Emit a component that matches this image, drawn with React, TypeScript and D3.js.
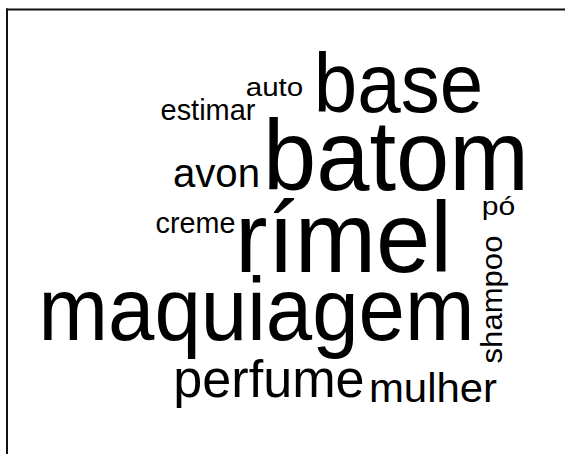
import React from "react";
import * as d3 from "d3";

// Word frequencies
const words = ["batom", "rímel", "maquiagem", "base", "perfume", "mulher", "avon", "creme", "estimar", "auto", "shampoo", "pó"];
const freqs = [25, 25, 22, 21, 13, 10, 10, 7, 7, 6, 7, 6];

// Word cloud placement (left edge, baseline, ink span, rotation)
const layoutLeft = [268, 240, 43, 318, 176, 371, 175, 157, 162, 247, 362, 483];
const layoutBase = [190, 272, 340, 112, 397, 402, 187, 233, 120, 96, 502, 215];
const layoutSpan = [256, 207, 427, 161, 186, 124, 83, 77, 92, 55, 125, 31];
const layoutRot = [0, 0, 0, 0, 0, 0, 0, 0, 0, 0, -90, 0];

const W = 565;
const H = 454;

export default function App() {
  const size = d3
    .scaleLinear()
    .domain([d3.min(freqs) as number, d3.max(freqs) as number])
    .range([25, 100]);

  return (
    <svg
      width={W}
      height={H}
      style={{ position: "absolute", left: 0, top: 0, background: "#fff", overflow: "hidden" }}
      fontFamily="'Liberation Sans', Arial, sans-serif"
    >
      <rect x={0} y={0} width={W} height={H} fill="#fff" />
      <line x1={6} y1={9.5} x2={W} y2={9.5} stroke="#111" strokeWidth={2} />
      <line x1={7} y1={8.5} x2={7} y2={H} stroke="#111" strokeWidth={2} />
      {words.map((w, i) => {
        const fs = size(freqs[i]);
        const lsb = 0.05 * fs;
        if (layoutRot[i] !== 0) {
          // rotated: reads bottom to top; baseline x = layoutBase, start y = layoutLeft (bottom)
          return (
            <text
              key={w}
              transform={`translate(${layoutBase[i]},${layoutLeft[i] + lsb}) rotate(${layoutRot[i]})`}
              fontSize={fs}
              fill="#000"
              textLength={layoutSpan[i] + 2 * lsb}
              lengthAdjust="spacingAndGlyphs"
            >
              {w}
            </text>
          );
        }
        return (
          <text
            key={w}
            x={layoutLeft[i] - lsb}
            y={layoutBase[i]}
            fontSize={fs}
            fill="#000"
            textLength={layoutSpan[i] + 2 * lsb}
            lengthAdjust="spacingAndGlyphs"
          >
            {w}
          </text>
        );
      })}
    </svg>
  );
}
